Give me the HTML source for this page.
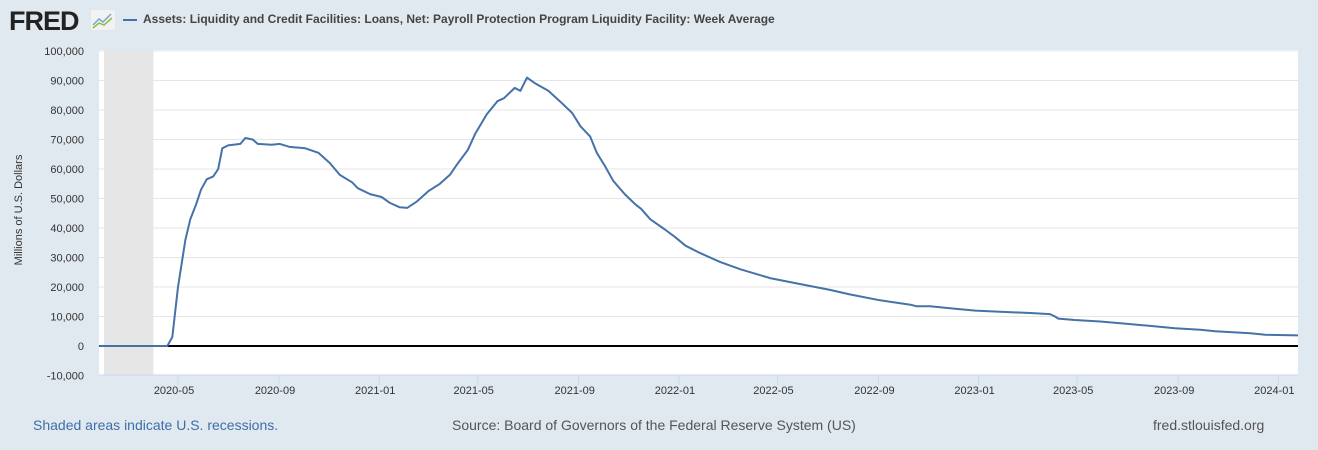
<!DOCTYPE html>
<html><head><meta charset="utf-8"><style>
body{margin:0;width:1318px;height:450px;background:#e1e9f0;font-family:"Liberation Sans",sans-serif;overflow:hidden;position:relative}
.t{position:absolute;white-space:nowrap}
</style></head><body>
<div class="t" style="left:9px;top:6px;font-size:27px;font-weight:bold;color:#222;letter-spacing:-1px">FRED</div>
<svg style="position:absolute;left:91px;top:10px" width="24" height="20"><rect width="24" height="20" rx="2" fill="#f2f2f2"/><polyline points="2,15 8,9 12,12 20,4" fill="none" stroke="#7aa7c7" stroke-width="1.5"/><polyline points="2,18 8,13 13,15 21,8" fill="none" stroke="#8cc04a" stroke-width="1.5"/></svg>
<div class="t" style="left:123px;top:12px;font-size:12px;font-weight:bold;color:#444"><span style="display:inline-block;width:14px;height:2px;background:#4572a7;vertical-align:middle;margin-right:6px"></span>Assets: Liquidity and Credit Facilities: Loans, Net: Payroll Protection Program Liquidity Facility: Week Average</div>
<div class="t" style="left:19px;top:210px;font-size:11px;color:#333;transform:translate(-50%,-50%) rotate(-90deg);transform-origin:center">Millions of U.S. Dollars</div>
<svg id="c" style="position:absolute;left:0;top:0" width="1318" height="450"></svg>
<div class="t" style="left:33px;top:417px;font-size:14px;color:#3e6ea8">Shaded areas indicate U.S. recessions.</div>
<div class="t" style="left:452px;top:417px;font-size:14px;color:#555">Source: Board of Governors of the Federal Reserve System (US)</div>
<div class="t" style="left:1153px;top:417px;font-size:14px;color:#555">fred.stlouisfed.org</div>
<script>
const dates=["2020-01-26","2020-04-18","2020-04-24","2020-05-01","2020-05-10","2020-05-16","2020-05-23","2020-05-29","2020-06-05","2020-06-13","2020-06-19","2020-06-24","2020-07-01","2020-07-16","2020-07-22","2020-07-31","2020-08-06","2020-08-23","2020-09-02","2020-09-14","2020-10-03","2020-10-19","2020-11-02","2020-11-14","2020-11-29","2020-12-06","2020-12-21","2021-01-04","2021-01-14","2021-01-26","2021-02-04","2021-02-16","2021-03-02","2021-03-16","2021-03-28","2021-04-07","2021-04-19","2021-04-28","2021-05-12","2021-05-25","2021-06-02","2021-06-15","2021-06-22","2021-06-30","2021-07-10","2021-07-26","2021-08-09","2021-08-24","2021-09-03","2021-09-15","2021-09-23","2021-10-03","2021-10-13","2021-10-27","2021-11-09","2021-11-16","2021-11-27","2021-12-15","2021-12-27","2022-01-09","2022-01-27","2022-02-20","2022-03-17","2022-04-22","2022-05-29","2022-07-04","2022-07-28","2022-09-03","2022-10-10","2022-10-17","2022-11-03","2022-11-27","2022-12-28","2023-01-27","2023-03-05","2023-03-29","2023-04-04","2023-04-08","2023-04-28","2023-05-29","2023-06-28","2023-07-29","2023-08-28","2023-09-28","2023-10-16","2023-11-28","2023-12-16","2024-01-25"];
const values=[0,0,3000,20000,36000,43000,48000,53000,56500,57500,60000,67000,68000,68500,70500,70000,68500,68200,68500,67500,67000,65500,62000,58000,55500,53500,51500,50500,48500,47000,46800,49000,52500,55000,58000,62000,66500,72000,78500,83000,84000,87500,86500,91000,89000,86500,83000,79000,74500,71000,65500,61000,56000,51500,48000,46500,43000,39500,37000,34000,31500,28500,26000,23000,21000,19000,17500,15500,14000,13500,13500,12800,12000,11600,11200,10800,10000,9300,8800,8300,7600,6800,6000,5500,5000,4300,3800,3600];
const yTicks=[-10000,0,10000,20000,30000,40000,50000,60000,70000,80000,90000,100000];
const xTicks=["2020-05","2020-09","2021-01","2021-05","2021-09","2022-01","2022-05","2022-09","2023-01","2023-05","2023-09","2024-01"];
const recession=["2020-02-01","2020-04-01"];
const L=99,R=1298,T=51,B=375;
const d0=Date.parse("2020-05-01"),dayMs=864e5;
const X=s=>178+(Date.parse(s)-d0)/dayMs*101/123;
const Y=v=>346-v*295/100000;
const svg=document.getElementById('c'),NS="http://www.w3.org/2000/svg";
function mk(t,a){const e=document.createElementNS(NS,t);for(const k in a)e.setAttribute(k,a[k]);svg.appendChild(e);return e;}
let e=mk('rect',{x:L,y:T-1,width:R-L,height:B-T+1,fill:'#fff'});

e=mk('rect',{x:X(recession[0]),y:T-1,width:X(recession[1])-X(recession[0]),height:B-T+1,fill:'#e6e6e6'});

yTicks.forEach(v=>{
 if(v!==0&&v!==-10000){const g=mk('line',{x1:L,x2:R,y1:Y(v),y2:Y(v),stroke:'#e6e6e6'});}
 const t=mk('text',{x:84,y:Y(v)+4,'text-anchor':'end','font-size':'11',fill:'#333'});t.textContent=v.toLocaleString('en-US');
 
});
e=mk('line',{x1:L,x2:R,y1:B,y2:B,stroke:'#ccd6eb'});
xTicks.forEach(s=>{const x=X(s+"-01");
 const l=mk('line',{x1:x,x2:x,y1:B,y2:B+10,stroke:'#ccd6eb'});
 const t=mk('text',{x:x-4,y:B+19,'text-anchor':'middle','font-size':'11',fill:'#333'});t.textContent=s;
 });
e=mk('line',{x1:L,x2:R,y1:Y(0),y2:Y(0),stroke:'#000','stroke-width':2});
e=mk('polyline',{points:dates.map((d,i)=>X(d).toFixed(1)+','+Y(values[i]).toFixed(1)).join(' '),fill:'none',stroke:'#4572a7','stroke-width':2,'stroke-linejoin':'round'});

</script>
</body></html>
